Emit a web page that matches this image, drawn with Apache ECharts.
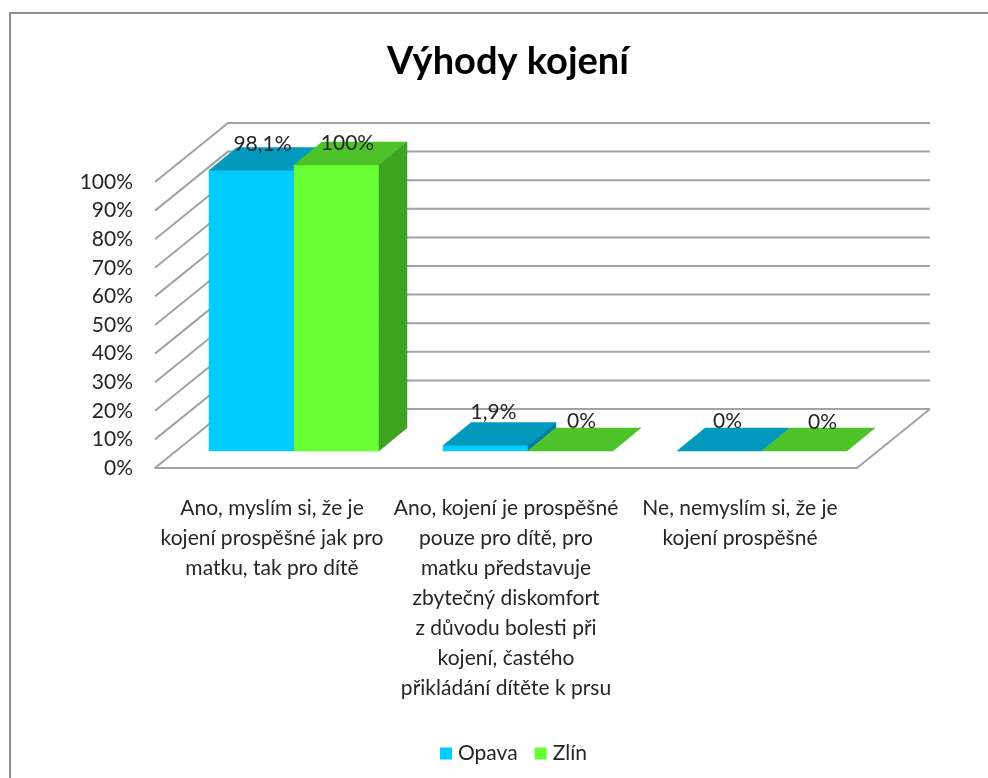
<!DOCTYPE html>
<html><head><meta charset="utf-8">
<style>html,body{margin:0;padding:0;background:#fff}#c{width:988px;height:778px}</style>
<script src="https://cdn.jsdelivr.net/npm/echarts@6/dist/echarts.min.js"></script>
</head><body><div id="c"></div>
<script>
const titleText = 'Výhody kojení';
const categories = [
  'Ano, myslím si, že je\nkojení prospěšné jak pro\nmatku, tak pro dítě',
  'Ano, kojení je prospěšné\npouze pro dítě, pro\nmatku představuje\nzbytečný diskomfort\nz důvodu bolesti při\nkojení, častého\npřikládání dítěte k prsu',
  'Ne, nemyslím si, že je\nkojení prospěšné'
];
const opava = [98.1, 1.9, 0];
const zlin = [100, 0, 0];
const yTicks = [0,10,20,30,40,50,60,70,80,90,100];

const FONT = 'Lato, "Noto Sans", sans-serif';
const TEXT = '#262626';
const WALL = [73, -59];     // floor depth in px (oblique projection)
const SHIFT = [22, -17];    // bar plane behind the front edge
const DEPTH = [28, -23];    // bar depth
const BAR_RATIO = 0.3632;   // bar width / band width
const labelNudge = { Opava: [[-3,-3],[-6,-10],[-6,-7]], 'Zlín': [[-3,1],[-3,-7],[4,-6]] };

function wallItem(params, api) {
  const cs = params.coordSys;
  const v = api.value(0);
  const y = api.coord([0, v])[1];
  const x0 = cs.x, x1 = cs.x + cs.width;
  const style = { stroke: '#a3a3a3', lineWidth: 2, fill: null };
  const kids = [
    { type:'polyline', shape:{points:[[x0,y],[x0+WALL[0],y+WALL[1]],[x1+WALL[0],y+WALL[1]]]}, style }
  ];
  if (v === 0) kids.push({ type:'line', shape:{x1:x1,y1:y,x2:x1+WALL[0],y2:y+WALL[1]}, style });
  return { type:'group', children:kids };
}

function barRenderer(name, index, colors) {
  return function (params, api) {
    const cat = api.value(0), v = api.value(1);
    const base = api.coord([cat, 0]);
    const top = api.coord([cat, v]);
    const w = api.size([1, 0])[0] * BAR_RATIO;
    const xL = base[0] + SHIFT[0] + (index - 1) * w;
    const xR = xL + w;
    const yB = base[1] + SHIFT[1];
    const yT = top[1] + SHIFT[1];
    const dx = DEPTH[0], dy = DEPTH[1];
    const poly = (pts, fill) => ({ type:'polygon', shape:{points:pts},
      style:{ fill, stroke:fill, lineWidth:0.5 } });
    const kids = [];
    if (v > 0) kids.push(poly([[xL,yT],[xR,yT],[xR,yB],[xL,yB]], colors.front));
    kids.push(poly([[xL,yT],[xR,yT],[xR+dx,yT+dy],[xL+dx,yT+dy]], colors.top));
    if (v > 0) kids.push(poly([[xR,yT],[xR+dx,yT+dy],[xR+dx,yB+dy],[xR,yB]], colors.side));
    const n = labelNudge[name][cat];
    kids.push({ type:'text', z2:100, style:{
      text: String(v).replace('.', ',') + '%',
      x: (xL + xR) / 2 + 14 + n[0], y: yT + dy + n[1],
      align:'center', verticalAlign:'middle',
      font: '21px ' + FONT, fill: TEXT } });
    return { type:'group', children:kids };
  };
}

const chart = echarts.init(document.getElementById('c'), null, { renderer:'canvas' });
chart.setOption({
  animation:false,
  backgroundColor:'#fff',
  title:{ text:titleText, left:503, textAlign:'center', top:38,
    textStyle:{ fontFamily:FONT, fontSize:38, fontWeight:'bold', color:'#000' } },
  legend:{ data:[{name:'Opava',icon:'rect'},{name:'Zlín',icon:'rect'}],
    left:435, top:738, itemWidth:12, itemHeight:12, itemGap:17, selectedMode:false,
    textStyle:{ fontFamily:FONT, fontSize:21, color:TEXT, padding:[0,0,0,1] } },
  graphic:[{ type:'rect', silent:true, z:-10,
    shape:{x:10,y:13,width:1000,height:800},
    style:{fill:'#fff',stroke:'#8f8f8f',lineWidth:2} }],
  grid:{ left:155, right:131, top:182, bottom:310, containLabel:false },
  xAxis:{ type:'category', data:categories,
    axisLine:{show:true,lineStyle:{color:'#a3a3a3',width:2}}, axisTick:{show:false},
    axisLabel:{ interval:0, margin:25, fontFamily:FONT, fontSize:21, lineHeight:30, color:TEXT, align:'center' } },
  yAxis:{ type:'value', min:0, max:100, interval:10,
    axisLine:{show:false}, axisTick:{show:false}, splitLine:{show:false},
    axisLabel:{ formatter:'{value}%', margin:22, fontFamily:FONT, fontSize:21, color:TEXT, padding:[6,0,0,0] } },
  series:[
    { type:'custom', name:'wall', silent:true, z:1, renderItem:wallItem,
      encode:{y:0}, data:yTicks.map(v=>[v]), clip:false },
    { type:'custom', name:'Opava', silent:true, z:2, clip:false, itemStyle:{color:'#00CCFF'},
      renderItem:barRenderer('Opava',0,{front:'#00CCFF',top:'#0399BE',side:'#0280A0'}),
      encode:{x:0,y:1}, data:opava.map((v,i)=>[i,v]) },
    { type:'custom', name:'Zlín', silent:true, z:3, clip:false, itemStyle:{color:'#66FF33'},
      renderItem:barRenderer('Zlín',1,{front:'#66FF33',top:'#4DC229',side:'#3FA322'}),
      encode:{x:0,y:1}, data:zlin.map((v,i)=>[i,v]) }
  ]
});
</script></body></html>
